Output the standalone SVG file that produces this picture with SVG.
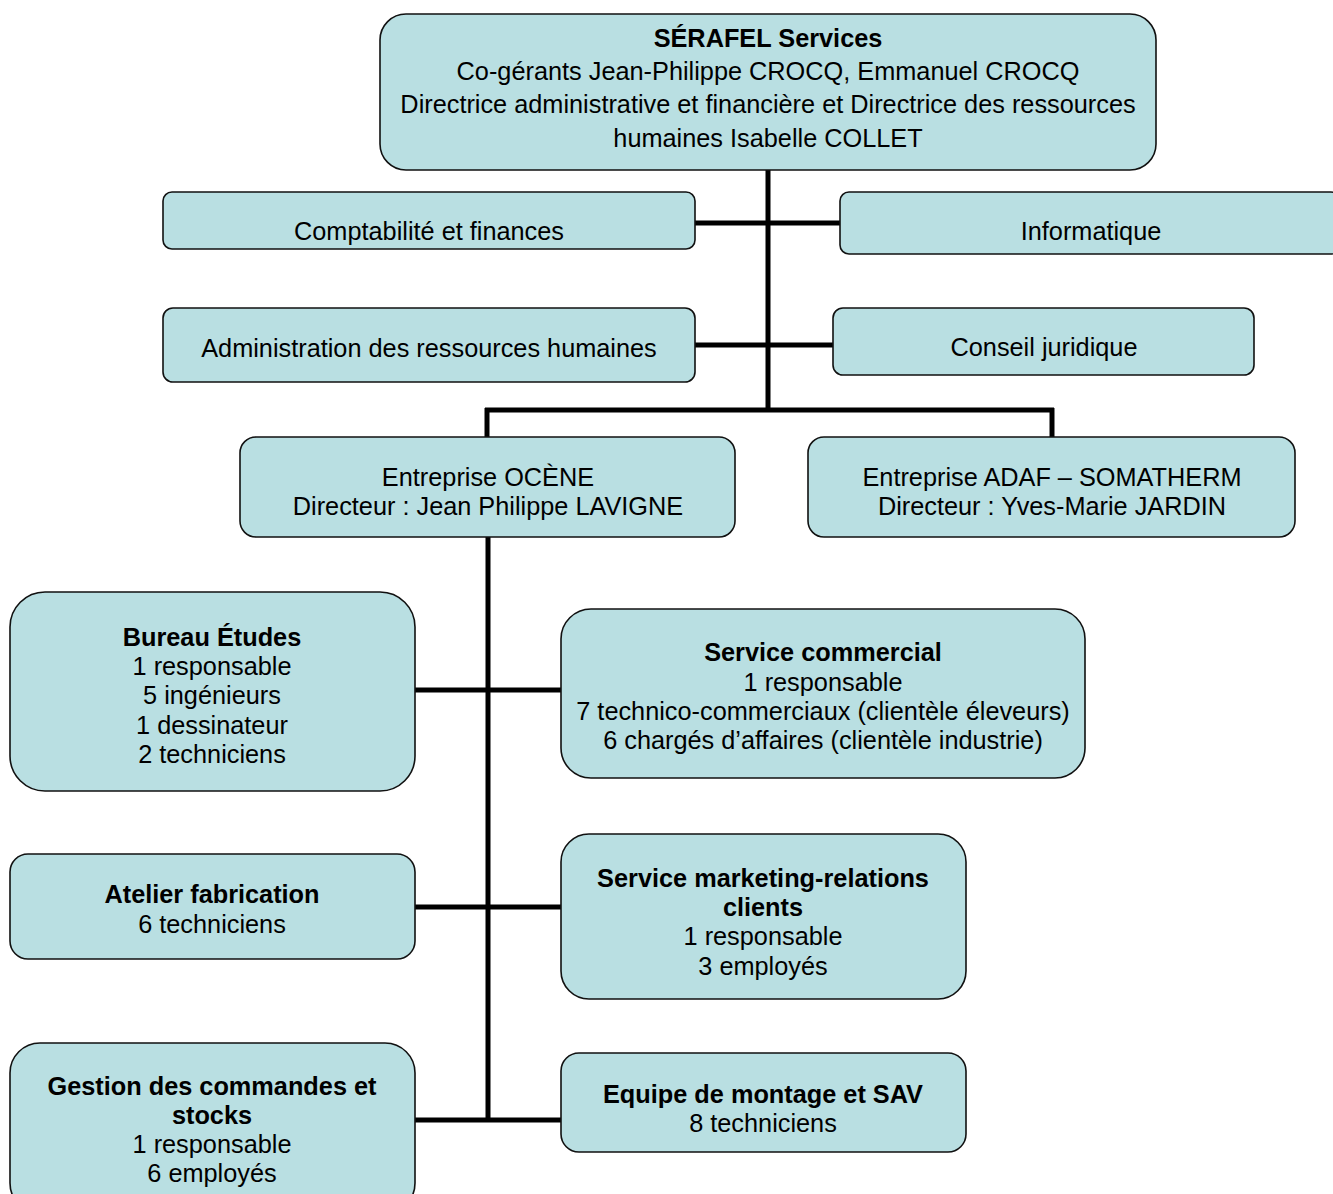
<svg xmlns="http://www.w3.org/2000/svg" width="1333" height="1194" viewBox="0 0 1333 1194">
<style>
.box{fill:#b9dfe2;stroke:#111;stroke-width:1.6}
.t{font-family:"Liberation Sans",Arial,sans-serif;font-size:25.3px;fill:#000;text-anchor:middle}
.b{font-weight:bold}
.c{stroke:#000;stroke-width:5;fill:none}
</style>
<rect width="1333" height="1194" fill="#fff"/>
<g id="connectors">
<path class="c" d="M768,170 V410"/>
<path class="c" d="M695,223 H840"/>
<path class="c" d="M695,345 H833"/>
<path class="c" d="M485,410 H1054"/>
<path class="c" d="M487,408 V437"/>
<path class="c" d="M1052,408 V437"/>
<path class="c" d="M488,537 V1122"/>
<path class="c" d="M415,690 H561"/>
<path class="c" d="M415,907 H561"/>
<path class="c" d="M415,1120 H561"/>
</g>
<g id="serafel">
<rect class="box" x="380" y="14" width="776" height="156" rx="26"/>
<text class="t" x="768" y="47"><tspan class="b">SÉRAFEL Services</tspan><tspan x="768" y="80">Co-gérants Jean-Philippe CROCQ, Emmanuel CROCQ</tspan><tspan x="768" y="113">Directrice administrative et financière et Directrice des ressources</tspan><tspan x="768" y="147">humaines Isabelle COLLET</tspan></text>
</g>
<g id="compta">
<rect class="box" x="163" y="192" width="532" height="57" rx="9"/>
<text class="t" x="429" y="240">Comptabilité et finances</text>
</g>
<g id="informatique">
<rect class="box" x="840" y="192" width="500" height="62" rx="9"/>
<text class="t" x="1091" y="240">Informatique</text>
</g>
<g id="admin-rh">
<rect class="box" x="163" y="308" width="532" height="74" rx="10"/>
<text class="t" x="429" y="357">Administration des ressources humaines</text>
</g>
<g id="conseil">
<rect class="box" x="833" y="308" width="421" height="67" rx="10"/>
<text class="t" x="1044" y="356">Conseil juridique</text>
</g>
<g id="ocene">
<rect class="box" x="240" y="437" width="495" height="100" rx="16"/>
<text class="t" x="488" y="486">Entreprise OCÈNE<tspan x="488" y="515">Directeur : Jean Philippe LAVIGNE</tspan></text>
</g>
<g id="adaf">
<rect class="box" x="808" y="437" width="487" height="100" rx="16"/>
<text class="t" x="1052" y="486">Entreprise ADAF – SOMATHERM<tspan x="1052" y="515">Directeur : Yves-Marie JARDIN</tspan></text>
</g>
<g id="bureau-etudes">
<rect class="box" x="10" y="592" width="405" height="199" rx="35"/>
<text class="t" x="212" y="646"><tspan class="b">Bureau Études</tspan><tspan x="212" y="675">1 responsable</tspan><tspan x="212" y="704">5 ingénieurs</tspan><tspan x="212" y="734">1 dessinateur</tspan><tspan x="212" y="763">2 techniciens</tspan></text>
</g>
<g id="service-commercial">
<rect class="box" x="561" y="609" width="524" height="169" rx="30"/>
<text class="t" x="823" y="661"><tspan class="b">Service commercial</tspan><tspan x="823" y="691">1 responsable</tspan><tspan x="823" y="720">7 technico-commerciaux (clientèle éleveurs)</tspan><tspan x="823" y="749">6 chargés d’affaires (clientèle industrie)</tspan></text>
</g>
<g id="atelier">
<rect class="box" x="10" y="854" width="405" height="105" rx="18"/>
<text class="t" x="212" y="903"><tspan class="b">Atelier fabrication</tspan><tspan x="212" y="933">6 techniciens</tspan></text>
</g>
<g id="marketing">
<rect class="box" x="561" y="834" width="405" height="165" rx="28"/>
<text class="t" x="763" y="887"><tspan class="b">Service marketing-relations</tspan><tspan x="763" y="916" class="b">clients</tspan><tspan x="763" y="945">1 responsable</tspan><tspan x="763" y="975">3 employés</tspan></text>
</g>
<g id="gestion">
<rect class="box" x="10" y="1043" width="405" height="170" rx="30"/>
<text class="t" x="212" y="1095"><tspan class="b">Gestion des commandes et</tspan><tspan x="212" y="1124" class="b">stocks</tspan><tspan x="212" y="1153">1 responsable</tspan><tspan x="212" y="1182">6 employés</tspan></text>
</g>
<g id="montage">
<rect class="box" x="561" y="1053" width="405" height="99" rx="18"/>
<text class="t" x="763" y="1103"><tspan class="b">Equipe de montage et SAV</tspan><tspan x="763" y="1132">8 techniciens</tspan></text>
</g>
</svg>
